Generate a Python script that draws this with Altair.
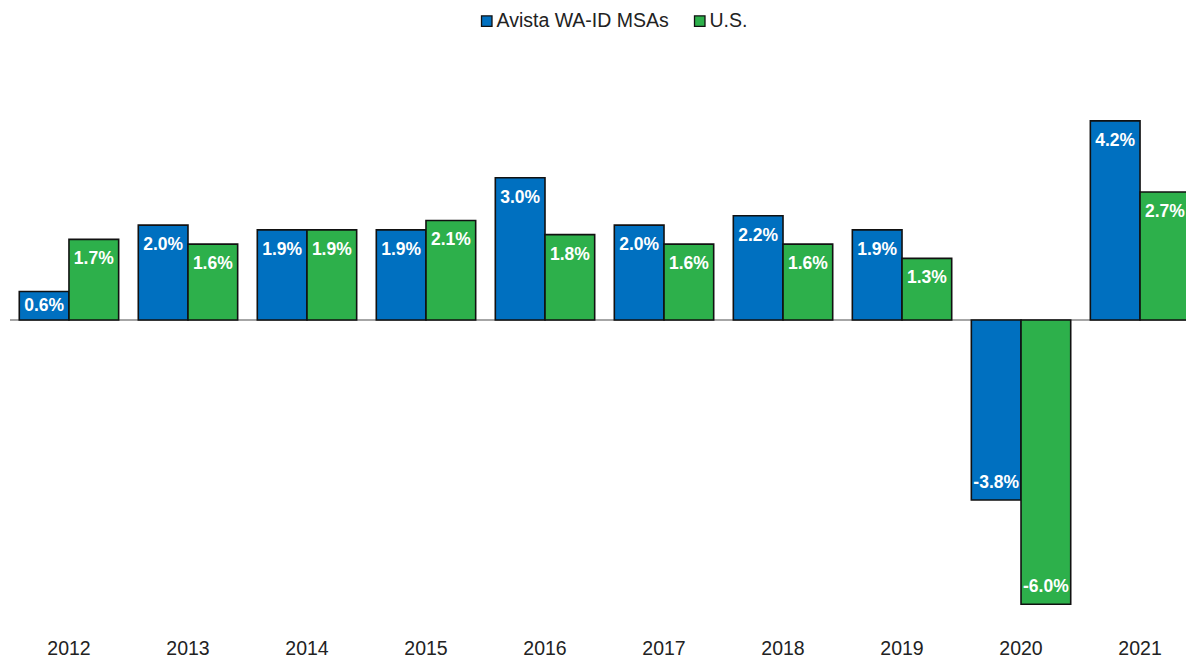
import altair as alt
import pandas as pd

years = ["2012", "2013", "2014", "2015", "2016", "2017", "2018", "2019", "2020", "2021"]
avista = [0.6, 2.0, 1.9, 1.9, 3.0, 2.0, 2.2, 1.9, -3.8, 4.2]
us = [1.7, 1.6, 1.9, 2.1, 1.8, 1.6, 1.6, 1.3, -6.0, 2.7]
series = ["Avista WA-ID MSAs", "U.S."]
colors = ["#0070C0", "#2DB04B"]

rows = []
for i, y in enumerate(years):
    rows.append({"year": y, "series": series[0], "value": avista[i]})
    rows.append({"year": y, "series": series[1], "value": us[i]})
df = pd.DataFrame(rows)

FONT = "Liberation Sans"

xenc = alt.X("year:N", sort=years,
             scale=alt.Scale(paddingInner=0.165, paddingOuter=0.078),
             axis=alt.Axis(title=None, labelAngle=0, domain=False, ticks=False,
                           labelFontSize=19.5, labelColor="#222222", labelFont=FONT,
                           labelPadding=11, orient="bottom"))
xoff = alt.XOffset("series:N", sort=series, scale=alt.Scale(paddingInner=0, paddingOuter=0))
yscale = alt.Scale(domain=[-6.5, 5], nice=False, zero=True)

zero = alt.Chart(df).mark_rule(color="#A6A6A6", strokeWidth=2).encode(
    y=alt.Y("zz:Q", scale=yscale, axis=None),
).transform_calculate(zz="0")

bars = alt.Chart(df).mark_bar(stroke="#111111", strokeWidth=1.6).encode(
    x=xenc,
    xOffset=xoff,
    y=alt.Y("value:Q", scale=yscale, axis=None),
    color=alt.Color("series:N", sort=series,
                    scale=alt.Scale(domain=series, range=colors),
                    legend=alt.Legend(title=None, orient="none", direction="horizontal",
                                      legendX=467, legendY=-72,
                                      symbolType="square", symbolSize=110,
                                      symbolStrokeColor="#111111", symbolStrokeWidth=1.3,
                                      labelFontSize=19.5, labelColor="#222222", labelFont=FONT,
                                      labelOffset=0, columnPadding=21, labelLimit=400)),
)

labels = alt.Chart(df).transform_calculate(
    lab="(datum.value < 0 ? '-' : '') + format(abs(datum.value), '.1f') + '%'",
    ypos="datum.value > 0 ? max(datum.value - 0.42, datum.value / 2) : datum.value + 0.36",
).mark_text(color="white", fontWeight="bold", fontSize=17.5, font=FONT, baseline="middle").encode(
    x=xenc,
    xOffset=xoff,
    y=alt.Y("ypos:Q", scale=yscale, axis=None),
    text="lab:N",
)

chart = alt.layer(zero, bars, labels).properties(
    width=1189, height=545,
    autosize=alt.AutoSizeParams(type="none"),
    padding={"left": 2, "top": 75, "right": -13, "bottom": 32},
).configure_view(stroke=None)

chart.save("out.html", embed_options={"renderer": "svg", "actions": False})
